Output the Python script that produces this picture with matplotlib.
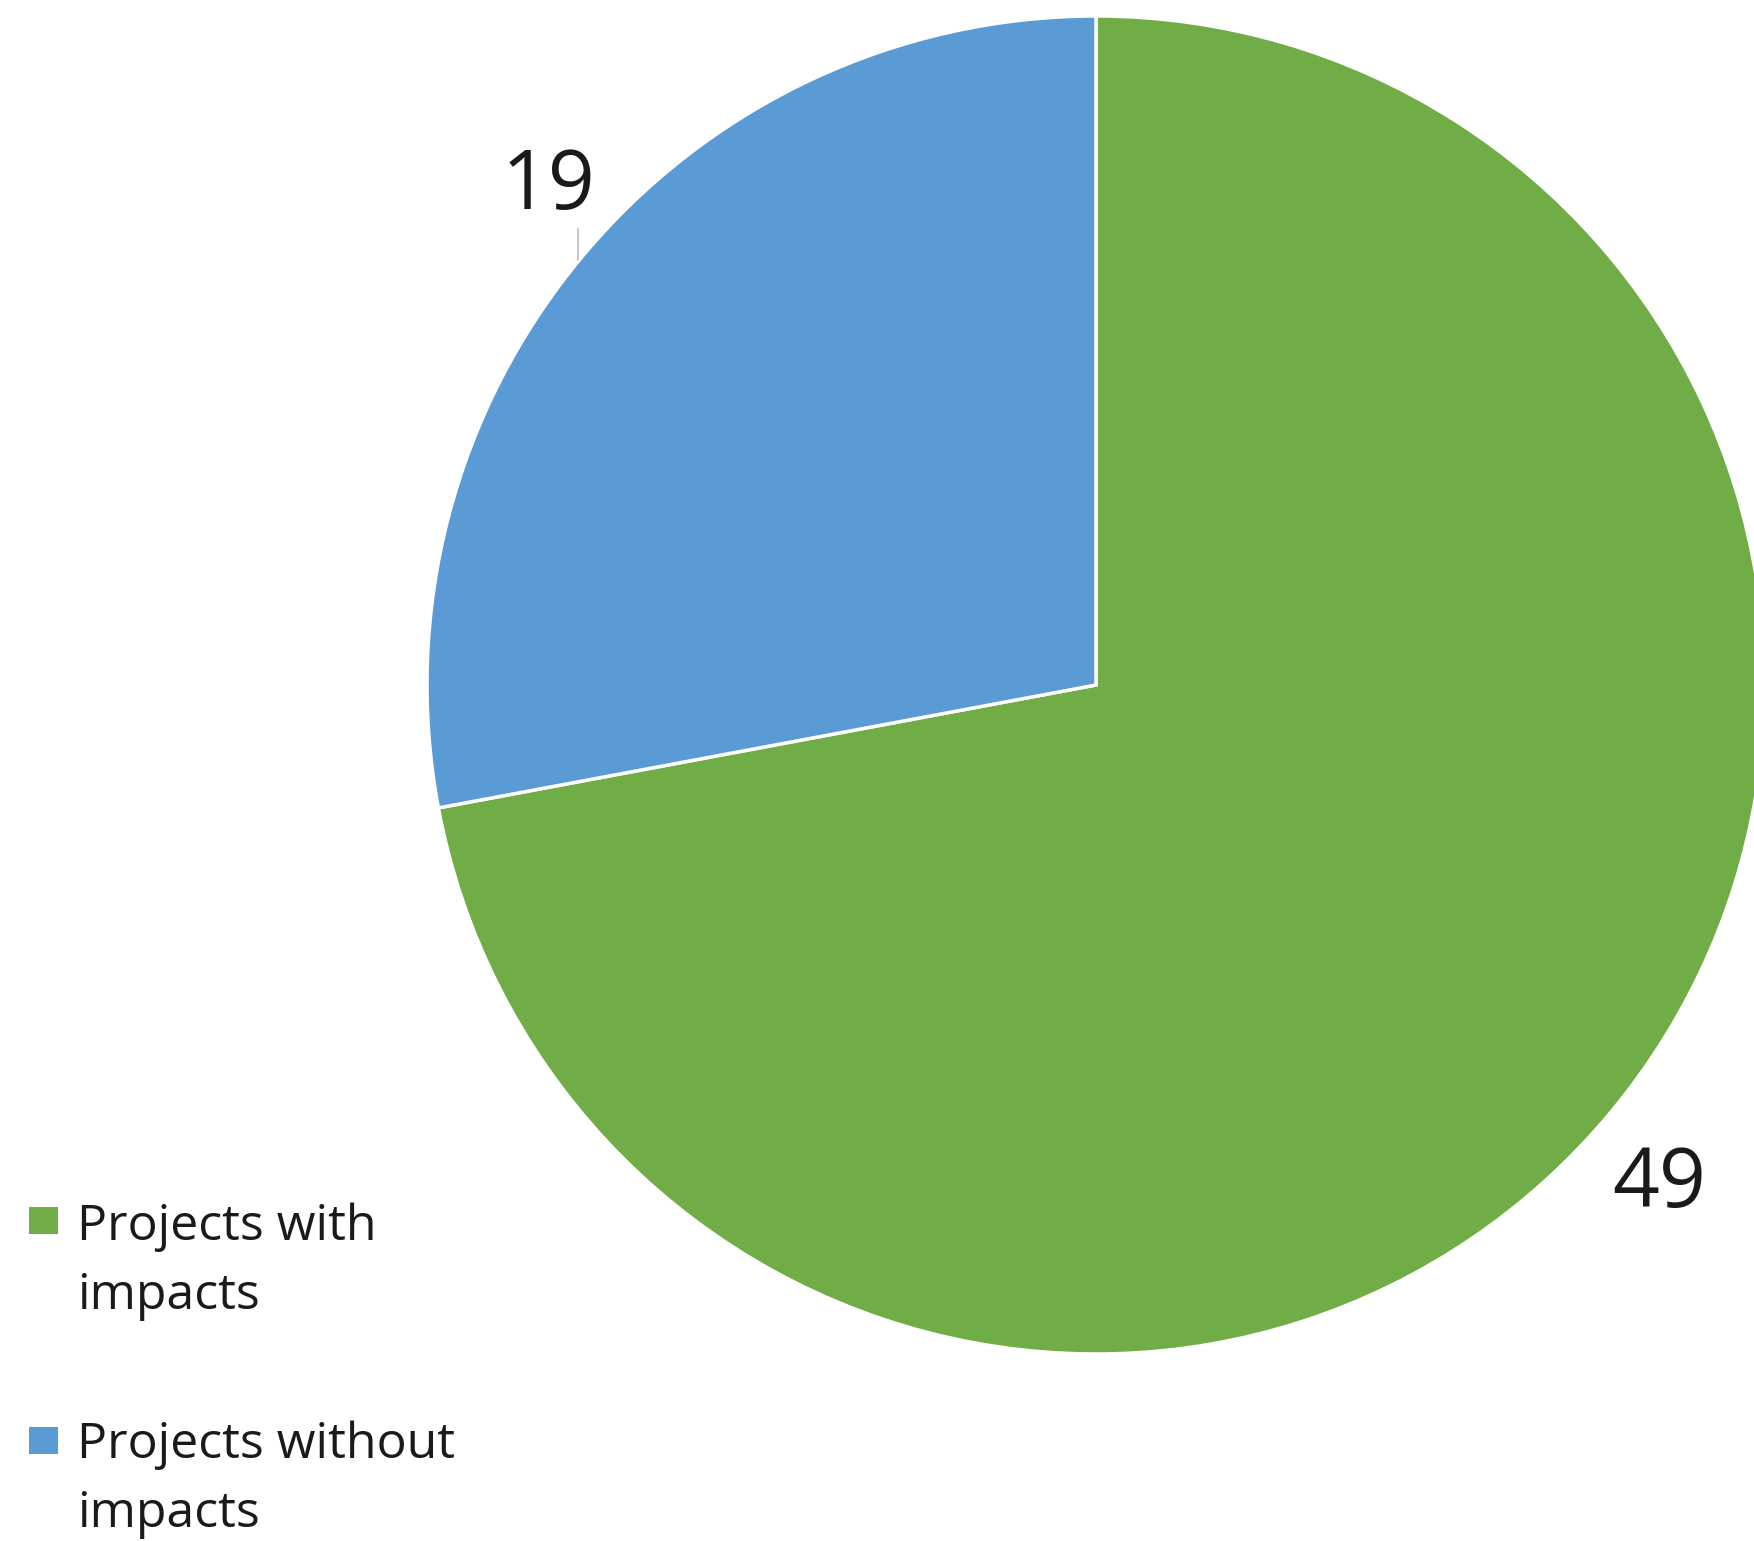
import numpy as np
import matplotlib.pyplot as plt
from matplotlib.patches import Rectangle

## data
categories = ["Projects with\nimpacts", "Projects without\nimpacts"]
values = [49, 19]
colors = ["#70AD47", "#5B9BD5"]

## figure geometry (pixels)
W, H = 1754, 1541
cx, cy, r = 1096, 685, 669   # pie centre from top-left, radius

plt.rcParams['font.family'] = ['Open Sans', 'DejaVu Sans']
txt_color = "#1a1a1a"

fig = plt.figure(figsize=(W / 100, H / 100), dpi=100)
ax = fig.add_axes([(cx - r) / W, (H - cy - r) / H, 2 * r / W, 2 * r / H])

wedges, _ = ax.pie(values, colors=colors, startangle=90, counterclock=False,
                   radius=1, wedgeprops=dict(edgecolor="white", linewidth=2.5))
# pie() pads the limits, put them back to the unit circle
ax.set_xlim(-1, 1)
ax.set_ylim(-1, 1)
ax.axis("off")
for w in wedges:
    w.set_clip_on(False)

# value labels outside the slices
label_pos = [(0.842, -0.749), (-0.819, 0.744)]
for v, (x, y) in zip(values, label_pos):
    ax.text(x, y, str(v), fontsize=59, color=txt_color, ha="center", va="center")

# short leader line for the small slice
ax.plot([-0.774, -0.774], [0.682, 0.636], color="#bfbfbf", lw=1.2)

## legend drawn by hand
def px(x, y):
    return x / W, 1 - y / H

box_top = [1207, 1427]
base1 = [1240, 1458]
for c, lab, top, b in zip(colors, categories, box_top, base1):
    x0, y0 = px(29, top + 27)
    fig.add_artist(Rectangle((x0, y0), 29 / W, 27 / H, transform=fig.transFigure,
                             facecolor=c, edgecolor="none"))
    for k, line in enumerate(lab.split("\n")):
        fig.text(*px(77, b + 69 * k), line, fontsize=36, color=txt_color,
                 ha="left", va="baseline")

fig.savefig("out.png", dpi=100)
